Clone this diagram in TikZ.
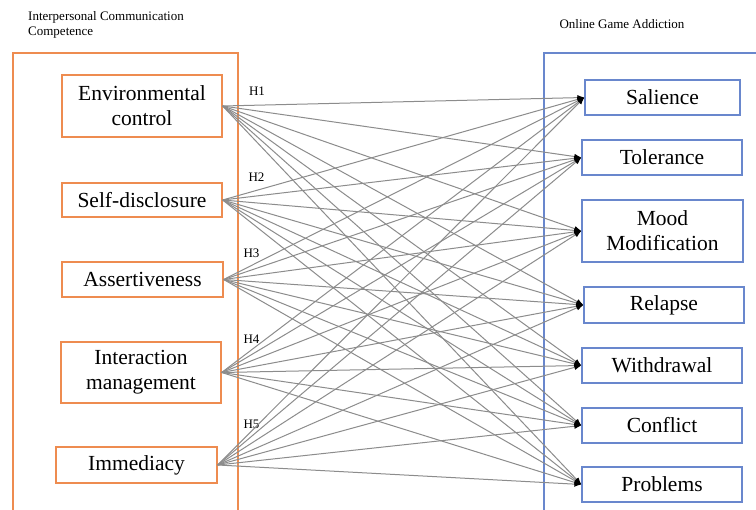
\documentclass[tikz,border=0pt]{standalone}
\usepackage{fontspec}
\setmainfont{Liberation Serif}
\usepackage{tikz}
\usepackage{xcolor}
\usetikzlibrary{arrows.meta}

\definecolor{iccorange}{RGB}{238,140,80}
\definecolor{ogablue}{RGB}{105,135,205}

\begin{document}
\begin{tikzpicture}[x=1pt,y=-1pt,
  icc/.style={draw=iccorange,line width=1.3pt,align=center,inner sep=0pt,font=\fontsize{21.5}{25}\selectfont},
  oga/.style={draw=ogablue,line width=1.3pt,align=center,inner sep=0pt,font=\fontsize{21.5}{25}\selectfont},
  hyp/.style={font=\fontsize{13}{15}\selectfont},
  link/.style={draw=gray!90,line width=1pt,-{Latex[black,length=7pt,width=5.5pt]}}]
\clip (0,0) rectangle (756,510);
\fill[white] (0,0) rectangle (756,510);

% Group titles
\node[hyp,align=left,anchor=west,inner sep=0pt] (ictitle) at (28,24.5) {Interpersonal Communication\\Competence};
\node[hyp,inner sep=0pt] (ogtitle) at (622,24) {Online Game Addiction};

% Outer frames
\draw[iccorange,line width=1.3pt] (13,520) -- (13,53) -- (238,53) -- (238,520);
\draw[ogablue,line width=1.3pt] (770,53) -- (544,53) -- (544,520);

% Communication competence dimensions
\node[icc,minimum width=160pt,minimum height=62pt] (env) at (142,106) {Environmental\\control};
\node[icc,minimum width=160pt,minimum height=34pt] (self) at (142,200) {Self-disclosure};
\node[icc,minimum width=161pt,minimum height=35pt] (asrt) at (142.5,279.5) {Assertiveness};
\node[icc,minimum width=160pt,minimum height=61pt] (inter) at (141,372.5) {Interaction\\management};
\node[icc,minimum width=161pt,minimum height=36pt] (immed) at (136.5,465) {Immediacy};

% Game addiction dimensions
\node[oga,minimum width=155pt,minimum height=35pt] (sal) at (662.5,97.5) {Salience};
\node[oga,minimum width=160pt,minimum height=35pt] (tol) at (662,157.5) {Tolerance};
\node[oga,minimum width=161pt,minimum height=62pt] (mood) at (662.5,231) {Mood\\Modification};
\node[oga,minimum width=160pt,minimum height=36pt] (rel) at (664,305) {Relapse};
\node[oga,minimum width=160pt,minimum height=35pt] (wdr) at (662,365.5) {Withdrawal};
\node[oga,minimum width=160pt,minimum height=35pt] (conf) at (662,425.5) {Conflict};
\node[oga,minimum width=160pt,minimum height=35pt] (prob) at (662,484.5) {Problems};

% Hypotheses
\node[hyp] (h1) at (257,91) {H1};
\node[hyp] (h2) at (256.5,177) {H2};
\node[hyp] (h3) at (251.5,253) {H3};
\node[hyp] (h4) at (251.5,339) {H4};
\node[hyp] (h5) at (251.5,424) {H5};

% Paths
\foreach \src in {env,self,asrt,inter,immed}
  \foreach \dst in {sal,tol,mood,rel,wdr,conf,prob}
    \draw[link] (\src.east) -- (\dst.west);
\end{tikzpicture}
\end{document}
